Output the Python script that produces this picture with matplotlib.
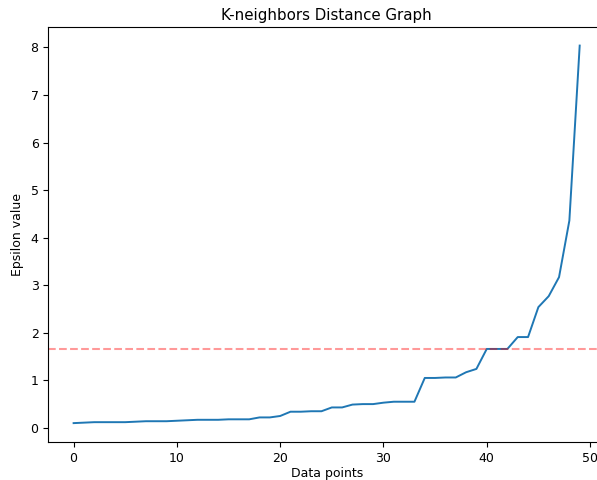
"""K-neighbors distance graph (sorted k-distances with epsilon cut-off)."""
import matplotlib

matplotlib.use("Agg")
import matplotlib.pyplot as plt
import numpy as np

# sorted k-neighbor distances
distances = [
    0.10, 0.11, 0.12, 0.12, 0.12, 0.12, 0.13, 0.14, 0.14, 0.14,
    0.15, 0.16, 0.17, 0.17, 0.17, 0.18, 0.18, 0.18, 0.22, 0.22,
    0.25, 0.34, 0.34, 0.35, 0.35, 0.43, 0.43, 0.49, 0.50, 0.50,
    0.53, 0.55, 0.55, 0.55, 1.05, 1.05, 1.06, 1.06, 1.17, 1.24,
    1.66, 1.66, 1.66, 1.91, 1.91, 2.54, 2.77, 3.17, 4.36, 8.04,
]
epsilon = 1.66

plt.rcParams["font.size"] = 9

W, H = 597, 480
fig = plt.figure(figsize=(W / 100, H / 100), dpi=100)
ax = fig.add_axes([48.3 / W, 1 - 442 / H, (605 - 48.3) / W, (442 - 26.7) / H])

ax.plot(np.arange(len(distances)), distances, linewidth=1.4)
ax.axhline(y=epsilon, color="r", linestyle="--", alpha=0.4)
ax.set_title("K-neighbors Distance Graph", fontsize=10.8, pad=5)
ax.set_xlabel("Data points", labelpad=2)
ax.set_ylabel("Epsilon value", labelpad=5)

fig.savefig("out.png", dpi=100)
plt.close(fig)
